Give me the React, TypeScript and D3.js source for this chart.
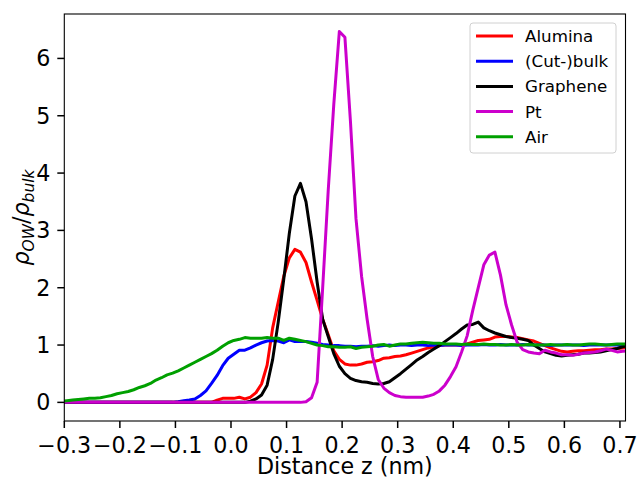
import React from "react";
import * as d3 from "d3";

// sampling grid of the profiles (nm), 0.01 nm bins
const zGrid = d3.range(103).map((i) => +(-0.305 + i * 0.01).toFixed(3));

const alumina = [
  0, 0, 0, 0, 0, 0, 0, 0, 0, 0, 0, 0, 0, 0, 0, 0, 0, 0, 0, 0, 0, 0, 0, 0, 0, 0, 0, 0,
  0.04, 0.07, 0.07, 0.07, 0.09, 0.06, 0.09, 0.17, 0.32, 0.65, 1.3, 1.75, 2.2, 2.52,
  2.67, 2.62, 2.44, 2.1, 1.78, 1.45, 1.18, 0.9, 0.75, 0.67, 0.65, 0.65, 0.67, 0.7,
  0.71, 0.73, 0.77, 0.78, 0.8, 0.81, 0.83, 0.86, 0.89, 0.92, 0.95, 0.97, 0.99, 1.0,
  1.0, 1.0, 1.0, 1.02, 1.05, 1.08, 1.09, 1.1, 1.14, 1.15, 1.15, 1.14, 1.13, 1.11,
  1.09, 1.07, 1.03, 0.99, 0.95, 0.92, 0.89, 0.88, 0.89, 0.9, 0.9, 0.91, 0.92, 0.92,
  0.93, 0.93, 0.94, 0.95, 0.96,
];

const cutBulk = [
  0, 0, 0, 0, 0, 0, 0, 0, 0, 0, 0, 0, 0, 0, 0, 0, 0, 0, 0, 0, 0,
  0.01, 0.03, 0.04, 0.06, 0.12, 0.2, 0.33, 0.47, 0.64, 0.77, 0.84, 0.91, 0.91, 0.95,
  1.0, 1.04, 1.07, 1.08, 1.07, 1.04, 1.09, 1.06, 1.06, 1.06, 1.05, 1.03, 1.01, 1.0,
  0.99, 0.99, 0.98, 0.98, 0.97, 0.98, 0.98, 0.99, 0.98, 0.99, 1.0, 0.99, 1.0, 1.0,
  0.99, 1.0, 1.0, 0.99, 1.0, 0.99, 1.0, 1.0, 1.0, 0.99, 1.0, 1.0, 1.0, 1.01, 1.0,
  1.0, 1.01, 1.0, 1.0, 1.0, 1.01, 1.0, 1.0, 1.0, 1.0, 0.99, 1.0, 1.0, 1.0, 1.0, 1.0,
  0.99, 1.0, 1.0, 1.0, 1.0, 1.0, 1.0, 1.0, 1.0,
];

const graphene = [
  0, 0, 0, 0, 0, 0, 0, 0, 0, 0, 0, 0, 0, 0, 0, 0, 0, 0, 0, 0, 0, 0, 0, 0, 0, 0, 0, 0,
  0, 0, 0, 0, 0, 0,
  0.02, 0.06, 0.13, 0.3, 0.75, 1.4, 2.15, 2.95, 3.6, 3.82, 3.5, 2.85, 2.1, 1.45,
  1.15, 0.85, 0.63, 0.5, 0.42, 0.38, 0.36, 0.35, 0.33, 0.32, 0.33, 0.36, 0.43, 0.5,
  0.58, 0.66, 0.74, 0.8, 0.87, 0.93, 0.99, 1.06, 1.13, 1.2, 1.28, 1.35, 1.36, 1.4,
  1.3, 1.25, 1.21, 1.18, 1.15, 1.13, 1.12, 1.1, 1.08, 1.0, 0.94, 0.88, 0.85, 0.82,
  0.81, 0.82, 0.83, 0.84, 0.86, 0.86, 0.87, 0.88, 0.9, 0.92, 0.94, 0.97, 0.99,
];

const pt = [
  0, 0, 0, 0, 0, 0, 0, 0, 0, 0, 0, 0, 0, 0, 0, 0, 0, 0, 0, 0, 0, 0, 0, 0, 0, 0, 0, 0,
  0, 0, 0, 0, 0, 0, 0, 0, 0, 0, 0, 0, 0, 0, 0, 0,
  0.01, 0.08, 0.35, 2.0, 3.7, 5.2, 6.47, 6.37, 4.9, 3.2, 2.2, 1.45, 0.8, 0.4, 0.25,
  0.17, 0.12, 0.1, 0.09, 0.09, 0.09, 0.09, 0.11, 0.14, 0.2, 0.3, 0.45, 0.62, 0.88,
  1.16, 1.6, 2.0, 2.4, 2.57, 2.62, 2.22, 1.7, 1.35, 1.05, 0.92, 0.88, 0.86, 0.85,
  0.91, 0.88, 0.86, 0.83, 0.83, 0.82, 0.84, 0.86, 0.87, 0.88, 0.9, 0.93, 0.91, 0.88,
  0.89, 0.9,
];

const air = [
  0.02, 0.03, 0.04, 0.05, 0.06, 0.07, 0.07, 0.08, 0.1, 0.12, 0.15, 0.17, 0.19, 0.22,
  0.26, 0.29, 0.33, 0.39, 0.43, 0.48, 0.51, 0.55, 0.6, 0.65, 0.7, 0.75, 0.8, 0.85,
  0.91, 0.98, 1.04, 1.08, 1.1, 1.13, 1.12, 1.12, 1.12, 1.13, 1.12, 1.12, 1.08, 1.12,
  1.1, 1.08, 1.06, 1.03, 1.0, 0.99, 0.97, 0.97, 0.96, 0.96, 0.97, 0.94, 0.96, 0.97,
  0.98, 1.0, 1.01, 0.98, 1.0, 1.02, 1.02, 1.03, 1.04, 1.05, 1.04, 1.03, 1.03, 1.02,
  1.02, 1.02, 1.01, 1.02, 1.01, 1.01, 1.02, 1.01, 1.01, 1.0, 1.0, 1.01, 1.0, 1.0,
  1.01, 1.0, 1.0, 1.0, 1.01, 1.0, 1.0, 1.01, 1.0, 1.0, 1.01, 1.02, 1.02, 1.01, 1.0,
  1.01, 1.02, 1.02, 1.02,
];

const seriesNames = ["Alumina", "(Cut-)bulk", "Graphene", "Pt", "Air"];
const seriesColors = ["#ff0000", "#0000ff", "#000000", "#cc00cc", "#00a000"];
const seriesValues = [alumina, cutBulk, graphene, pt, air];

const xTicks = [-0.3, -0.2, -0.1, 0.0, 0.1, 0.2, 0.3, 0.4, 0.5, 0.6, 0.7];
const yTicks = [0, 1, 2, 3, 4, 5, 6];

const W = 637;
const H = 481;
const margin = { top: 14, right: 11.5, bottom: 60, left: 64.3 };
const FONT = "DejaVu Sans, sans-serif";
const FS = 22.2;

const fmt = (v: number) => v.toFixed(1).replace("-", "\u2212");

export default function App() {
  const x = d3
    .scaleLinear()
    .domain([-0.3, 0.71])
    .range([margin.left, W - margin.right]);
  const y = d3
    .scaleLinear()
    .domain([-0.325, 6.775])
    .range([H - margin.bottom, margin.top]);

  const line = d3
    .line<[number, number]>()
    .x((d) => x(d[0]))
    .y((d) => y(d[1]));

  const x0 = x.range()[0];
  const x1 = x.range()[1];
  const yB = y.range()[0];
  const yT = y.range()[1];

  // legend
  const lgX = 470;
  const lgY = 23;
  const rowH = 25.2;

  return (
    <div style={{ position: "absolute", left: 0, top: 0 }}>
      <svg width={W} height={H} style={{ display: "block", background: "#fff" }} fontFamily={FONT}>
        <defs>
          <clipPath id="plot-clip">
            <rect x={x0} y={yT} width={x1 - x0} height={yB - yT} />
          </clipPath>
        </defs>

        <g clipPath="url(#plot-clip)">
          {seriesValues.map((vals, i) => (
            <path
              key={seriesNames[i]}
              d={line(zGrid.map((z, k) => [z, vals[k]] as [number, number])) || ""}
              fill="none"
              stroke={seriesColors[i]}
              strokeWidth={3}
              strokeLinejoin="round"
            />
          ))}
        </g>

        {/* frame */}
        <rect x={x0} y={yT} width={x1 - x0} height={yB - yT} fill="none" stroke="#000" strokeWidth={1.1} />

        {/* x axis */}
        {xTicks.map((t) => (
          <g key={"x" + t}>
            <line x1={x(t)} x2={x(t)} y1={yB} y2={yB + 7} stroke="#000" strokeWidth={1.5} />
            <text x={x(t)} y={yB + 32} textAnchor="middle" fontSize={FS}>
              {fmt(t)}
            </text>
          </g>
        ))}

        {/* y axis */}
        {yTicks.map((t) => (
          <g key={"y" + t}>
            <line x1={x0 - 7} x2={x0} y1={y(t)} y2={y(t)} stroke="#000" strokeWidth={1.5} />
            <text x={x0 - 14} y={y(t) + 8} textAnchor="end" fontSize={FS}>
              {t}
            </text>
          </g>
        ))}

        <text x={(x0 + x1) / 2} y={474} textAnchor="middle" fontSize={FS}>
          Distance z (nm)
        </text>

        <text transform={`translate(29,${(yT + yB) / 2}) rotate(-90)`} textAnchor="middle" fontSize={FS}>
          <tspan fontStyle="italic">ρ</tspan>
          <tspan fontStyle="italic" fontSize={15.5} dy={4.5}>OW</tspan>
          <tspan dy={-4.5}>/</tspan>
          <tspan fontStyle="italic">ρ</tspan>
          <tspan fontStyle="italic" fontSize={15.5} dy={4.5}>bulk</tspan>
        </text>

        {/* legend */}
        <rect x={lgX} y={lgY} width={146} height={130} rx={3} fill="#fff" fillOpacity={0.8} stroke="#d0d0d0" />
        {seriesNames.map((name, i) => (
          <g key={"lg" + name}>
            <line
              x1={lgX + 6}
              x2={lgX + 43}
              y1={lgY + 13 + i * rowH}
              y2={lgY + 13 + i * rowH}
              stroke={seriesColors[i]}
              strokeWidth={3}
            />
            <text x={lgX + 55} y={lgY + 19 + i * rowH} fontSize={16.7}>
              {name}
            </text>
          </g>
        ))}
      </svg>
    </div>
  );
}
